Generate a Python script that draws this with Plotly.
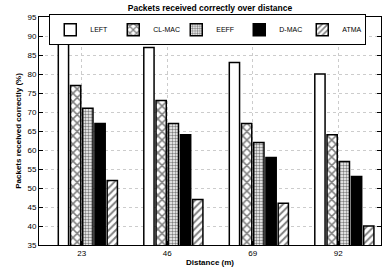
import plotly.graph_objects as go

distances = ["23", "46", "69", "92"]
series_names = ["LEFT", "CL-MAC", "EEFF", "D-MAC", "ATMA"]
left_vals = [89, 87, 83, 80]
clmac_vals = [77, 73, 67, 64]
eeff_vals = [71, 67, 62, 57]
dmac_vals = [67, 64, 58, 53]
atma_vals = [52, 47, 46, 40]

series_values = [left_vals, clmac_vals, eeff_vals, dmac_vals, atma_vals]

styles = [
    dict(color="white", pattern=dict(shape="")),
    dict(color="white", pattern=dict(shape="x", size=6, solidity=0.45, fgcolor="black", bgcolor="white", fillmode="overlay")),
    dict(color="white", pattern=dict(shape=".", size=3, solidity=0.5, fgcolor="black", bgcolor="white", fillmode="overlay")),
    dict(color="black", pattern=dict(shape="")),
    dict(color="white", pattern=dict(shape="/", size=5, solidity=0.4, fgcolor="black", bgcolor="white", fillmode="overlay")),
]

pitch = 1 / 7
bar_w = 0.12
first_center = -1.5 / 7

fig = go.Figure()
for j, (name, vals) in enumerate(zip(series_names, series_values)):
    center = first_center + j * pitch
    st = styles[j]
    fig.add_trace(go.Bar(
        x=distances, y=vals, name=name,
        offset=center - bar_w / 2, width=bar_w,
        marker=dict(color=st["color"], pattern=st["pattern"],
                    line=dict(color="black", width=1.5)),
    ))

font_family = "Liberation Sans, Arial, sans-serif"
fig.update_layout(
    width=386, height=274,
    margin=dict(l=39, r=5, t=17, b=29, autoexpand=False),
    barmode="overlay",
    plot_bgcolor="white", paper_bgcolor="white",
    font=dict(family=font_family, size=8, color="black"),
    title=dict(text="<b>Packets received correctly over distance</b>",
               x=0.544, xanchor="center", y=0.97, yanchor="middle",
               font=dict(size=8.5)),
    showlegend=True,
    legend=dict(orientation="h", x=0.03, y=1.012, xanchor="left", yanchor="top",
                bgcolor="white", bordercolor="black", borderwidth=1,
                font=dict(size=7), itemwidth=30, tracegroupgap=0,
                entrywidth=18, entrywidthmode="pixels"),
    xaxis=dict(type="category", range=[-0.5, 3.5], automargin=False,
               showline=True, linecolor="black", linewidth=1, mirror=True,
               showgrid=True, gridcolor="#cccccc", griddash="dot",
               ticks="inside", ticklen=4, tickcolor="black",
               title=dict(text="<b>Distance (m)</b>", standoff=2, font=dict(size=8))),
    yaxis=dict(range=[35, 95], dtick=5, tick0=35, automargin=False,
               showline=True, linecolor="black", linewidth=1, mirror="ticks",
               showgrid=True, gridcolor="#cccccc", griddash="dot",
               ticks="inside", ticklen=4, tickcolor="black",
               title=dict(text="<b>Packets received correctly (%)</b>", standoff=4, font=dict(size=8))),
)

fig.write_html(
    "out.html",
    config={"displayModeBar": False},
    post_script="document.body.style.margin='0';document.documentElement.style.overflow='hidden';document.body.style.overflow='hidden';",
)
